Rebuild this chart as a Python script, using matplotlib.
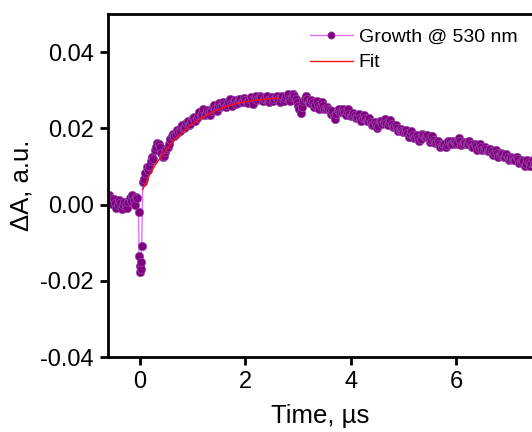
import matplotlib
matplotlib.use("Agg")
import matplotlib.pyplot as plt
from matplotlib.ticker import FixedLocator, FuncFormatter

plt.rcParams['font.family'] = ['Liberation Sans', 'DejaVu Sans']
plt.rcParams['axes.unicode_minus'] = False

# Measured kinetic trace (time in µs, ΔA in a.u.)
t_pre = [-0.60, -0.55, -0.50, -0.45, -0.40, -0.35, -0.30, -0.25, -0.20, -0.15, -0.10, -0.05]
a_pre = [0.0024, 0.0008, 0.0014, -0.0010, 0.0012, -0.0012, 0.0008, -0.0008, 0.0016, 0.0024, -0.0002, 0.0018]
t_pre_b = [-0.575, -0.525, -0.475, -0.425, -0.375, -0.325, -0.275, -0.225, -0.175, -0.125, -0.075]
a_pre_b = [0.0016, 0.0002, 0.0004, 0.0000, 0.0004, 0.0000, -0.0002, 0.0006, 0.0010, 0.0012, 0.0020]

t_dip = [-0.03, -0.02, -0.01, 0.00, 0.01, 0.02, 0.03]
a_dip = [-0.0020, -0.0135, -0.0160, -0.0178, -0.0170, -0.0150, -0.0108]

t_rise = [0.05, 0.10, 0.15, 0.20, 0.25, 0.30, 0.35, 0.40, 0.45, 0.50,
          0.55, 0.60, 0.65, 0.70, 0.75, 0.80, 0.85, 0.90, 0.95, 1.00,
          1.05, 1.10, 1.15, 1.20, 1.25, 1.30, 1.35, 1.40, 1.45, 1.50,
          1.55, 1.60, 1.65, 1.70, 1.75, 1.80, 1.85, 1.90, 1.95, 2.00,
          2.05, 2.10, 2.15, 2.20, 2.25, 2.30, 2.35, 2.40, 2.45, 2.50,
          2.55, 2.60, 2.65, 2.70, 2.75, 2.80, 2.85, 2.90, 2.95, 3.00]
a_rise = [0.0058, 0.0084, 0.0090, 0.0114, 0.0120, 0.0150, 0.0160, 0.0136, 0.0128, 0.0146,
          0.0160, 0.0180, 0.0180, 0.0196, 0.0192, 0.0210, 0.0204, 0.0218, 0.0212, 0.0228,
          0.0220, 0.0236, 0.0234, 0.0250, 0.0238, 0.0244, 0.0246, 0.0262, 0.0246, 0.0266,
          0.0258, 0.0264, 0.0260, 0.0276, 0.0258, 0.0274, 0.0266, 0.0278, 0.0270, 0.0274,
          0.0266, 0.0282, 0.0264, 0.0284, 0.0276, 0.0282, 0.0278, 0.0286, 0.0268, 0.0282,
          0.0276, 0.0286, 0.0268, 0.0286, 0.0280, 0.0290, 0.0272, 0.0290, 0.0276, 0.0258]
t_rise_b = [0.075, 0.125, 0.175, 0.225, 0.275, 0.325, 0.375, 0.425, 0.475, 0.525,
            0.575, 0.625, 0.675, 0.725, 0.775, 0.825, 0.875, 0.925, 0.975, 1.025,
            1.075, 1.125, 1.175, 1.225, 1.275, 1.325, 1.375, 1.425, 1.475, 1.525,
            1.575, 1.625, 1.675, 1.725, 1.775, 1.825, 1.875, 1.925, 1.975, 2.025,
            2.075, 2.125, 2.175, 2.225, 2.275, 2.325, 2.375, 2.425, 2.475, 2.525,
            2.575, 2.625, 2.675, 2.725, 2.775, 2.825, 2.875, 2.925, 2.975]
a_rise_b = [0.0066, 0.0098, 0.0100, 0.0124, 0.0142, 0.0162, 0.0150, 0.0124, 0.0138, 0.0150,
            0.0172, 0.0186, 0.0184, 0.0190, 0.0204, 0.0202, 0.0214, 0.0210, 0.0218, 0.0230,
            0.0226, 0.0242, 0.0238, 0.0236, 0.0248, 0.0236, 0.0256, 0.0250, 0.0258, 0.0256,
            0.0270, 0.0256, 0.0270, 0.0264, 0.0272, 0.0264, 0.0278, 0.0268, 0.0280, 0.0268,
            0.0276, 0.0274, 0.0276, 0.0274, 0.0286, 0.0272, 0.0280, 0.0274, 0.0278, 0.0272,
            0.0282, 0.0276, 0.0280, 0.0272, 0.0284, 0.0278, 0.0282, 0.0284, 0.0270]

t_decay = [3.05, 3.10, 3.15, 3.20, 3.25, 3.30, 3.35, 3.40, 3.45, 3.50,
           3.55, 3.60, 3.65, 3.70, 3.75, 3.80, 3.85, 3.90, 3.95, 4.00,
           4.05, 4.10, 4.15, 4.20, 4.25, 4.30, 4.35, 4.40, 4.45, 4.50,
           4.55, 4.60, 4.65, 4.70, 4.75, 4.80, 4.85, 4.90, 4.95, 5.00,
           5.05, 5.10, 5.15, 5.20, 5.25, 5.30, 5.35, 5.40, 5.45, 5.50,
           5.55, 5.60, 5.65, 5.70, 5.75, 5.80, 5.85, 5.90, 5.95, 6.00,
           6.05, 6.10, 6.15, 6.20, 6.25, 6.30, 6.35, 6.40, 6.45, 6.50,
           6.55, 6.60, 6.65, 6.70, 6.75, 6.80, 6.85, 6.90, 6.95, 7.00,
           7.05, 7.10, 7.15, 7.20, 7.25, 7.30, 7.35, 7.40, 7.45, 7.50]
a_decay = [0.0240, 0.0272, 0.0284, 0.0270, 0.0274, 0.0256, 0.0272, 0.0252, 0.0268, 0.0250,
           0.0256, 0.0248, 0.0246, 0.0224, 0.0248, 0.0244, 0.0252, 0.0234, 0.0250, 0.0232,
           0.0240, 0.0228, 0.0238, 0.0220, 0.0234, 0.0218, 0.0226, 0.0208, 0.0216, 0.0202,
           0.0218, 0.0212, 0.0224, 0.0208, 0.0222, 0.0204, 0.0210, 0.0192, 0.0198, 0.0190,
           0.0196, 0.0178, 0.0194, 0.0174, 0.0182, 0.0166, 0.0184, 0.0176, 0.0182, 0.0164,
           0.0180, 0.0162, 0.0168, 0.0152, 0.0160, 0.0150, 0.0168, 0.0160, 0.0166, 0.0158,
           0.0174, 0.0156, 0.0164, 0.0158, 0.0166, 0.0150, 0.0158, 0.0144, 0.0160, 0.0142,
           0.0150, 0.0140, 0.0146, 0.0130, 0.0144, 0.0126, 0.0134, 0.0124, 0.0132, 0.0116,
           0.0124, 0.0118, 0.0126, 0.0108, 0.0118, 0.0102, 0.0118, 0.0100, 0.0116, 0.0104]
t_decay_b = [3.025, 3.075, 3.125, 3.175, 3.225, 3.275, 3.325, 3.375, 3.425, 3.475,
             3.525, 3.575, 3.625, 3.675, 3.725, 3.775, 3.825, 3.875, 3.925, 3.975,
             4.025, 4.075, 4.125, 4.175, 4.225, 4.275, 4.325, 4.375, 4.425, 4.475,
             4.525, 4.575, 4.625, 4.675, 4.725, 4.775, 4.825, 4.875, 4.925, 4.975,
             5.025, 5.075, 5.125, 5.175, 5.225, 5.275, 5.325, 5.375, 5.425, 5.475,
             5.525, 5.575, 5.625, 5.675, 5.725, 5.775, 5.825, 5.875, 5.925, 5.975,
             6.025, 6.075, 6.125, 6.175, 6.225, 6.275, 6.325, 6.375, 6.425, 6.475,
             6.525, 6.575, 6.625, 6.675, 6.725, 6.775, 6.825, 6.875, 6.925, 6.975,
             7.025, 7.075, 7.125, 7.175, 7.225, 7.275, 7.325, 7.375, 7.425, 7.475]
a_decay_b = [0.0250, 0.0256, 0.0276, 0.0278, 0.0266, 0.0268, 0.0262, 0.0262, 0.0258, 0.0260,
             0.0252, 0.0252, 0.0238, 0.0232, 0.0238, 0.0250, 0.0242, 0.0244, 0.0242, 0.0238,
             0.0236, 0.0234, 0.0230, 0.0228, 0.0226, 0.0226, 0.0218, 0.0216, 0.0210, 0.0208,
             0.0206, 0.0218, 0.0216, 0.0214, 0.0216, 0.0212, 0.0206, 0.0200, 0.0196, 0.0194,
             0.0190, 0.0188, 0.0184, 0.0182, 0.0176, 0.0174, 0.0172, 0.0182, 0.0176, 0.0174,
             0.0170, 0.0170, 0.0164, 0.0160, 0.0154, 0.0158, 0.0156, 0.0166, 0.0160, 0.0164,
             0.0162, 0.0166, 0.0160, 0.0162, 0.0158, 0.0160, 0.0152, 0.0154, 0.0148, 0.0152,
             0.0146, 0.0146, 0.0140, 0.0140, 0.0134, 0.0136, 0.0130, 0.0132, 0.0124, 0.0126,
             0.0120, 0.0122, 0.0116, 0.0120, 0.0112, 0.0114, 0.0106, 0.0112, 0.0108, 0.0106]

# Fit curve
t_fit = [0.05, 0.10, 0.20, 0.30, 0.40, 0.50, 0.60, 0.70, 0.80, 0.90, 1.00,
         1.20, 1.40, 1.60, 1.80, 2.00, 2.20, 2.40, 2.62]
a_fit = [0.0040, 0.0055, 0.0084, 0.0106, 0.0126, 0.0144, 0.0162, 0.0177, 0.0190, 0.0202, 0.0212,
         0.0230, 0.0244, 0.0256, 0.0264, 0.0270, 0.0274, 0.0277, 0.0279]

x_ticks = [0, 2, 4, 6]
y_ticks = [-0.04, -0.02, 0.00, 0.02, 0.04]
x_label = "Time, µs"
y_label = "ΔA, a.u."
series_label = "Growth @ 530 nm"
fit_label = "Fit"

pairs = sorted(zip(t_pre + t_pre_b + t_dip + t_rise + t_rise_b + t_decay + t_decay_b,
                   a_pre + a_pre_b + a_dip + a_rise + a_rise_b + a_decay + a_decay_b))
t_all = [p[0] for p in pairs]
a_all = [p[1] for p in pairs]

W, H = 532, 432
fig = plt.figure(figsize=(W / 100, H / 100), dpi=100)
ax = fig.add_axes([108 / W, (H - 357) / H, (532 - 108) / W, (357 - 14) / H])

ax.plot(t_all, a_all, color='#E070FF', lw=1.0, marker='o', ms=6.0,
        mfc='#800080', mec='#9848A8', mew=0.5, label=series_label, zorder=2)
ax.plot(t_fit, a_fit, color='#FF1010', lw=1.0, label=fit_label, zorder=3)

ax.set_xlim(-0.61, 7.44)
ax.set_ylim(-0.04, 0.05)
ax.xaxis.set_major_locator(FixedLocator(x_ticks))
ax.yaxis.set_major_locator(FixedLocator(y_ticks))
ax.yaxis.set_major_formatter(FuncFormatter(lambda v, p: f"{v:.2f}"))
ax.xaxis.set_major_formatter(FuncFormatter(lambda v, p: f"{v:g}"))

for s in ['left', 'bottom', 'top']:
    ax.spines[s].set_linewidth(2.0)
ax.spines['right'].set_visible(False)
ax.tick_params(axis='both', direction='out', length=6, width=2.0, labelsize=17, pad=4)
ax.tick_params(top=False, right=False)

ax.set_xlabel(x_label, fontsize=18.5, labelpad=8)
ax.set_ylabel(y_label, fontsize=18.5, labelpad=5)

leg = ax.legend(loc='upper left', bbox_to_anchor=(310 / W, 1 - 28 / H),
                bbox_transform=fig.transFigure, frameon=False, fontsize=14,
                borderpad=0, borderaxespad=0, handlelength=2.2, handletextpad=0.3,
                labelspacing=0.42)
leg.legend_handles[0].set_markersize(5.2)

fig.savefig("out.png", dpi=100)
